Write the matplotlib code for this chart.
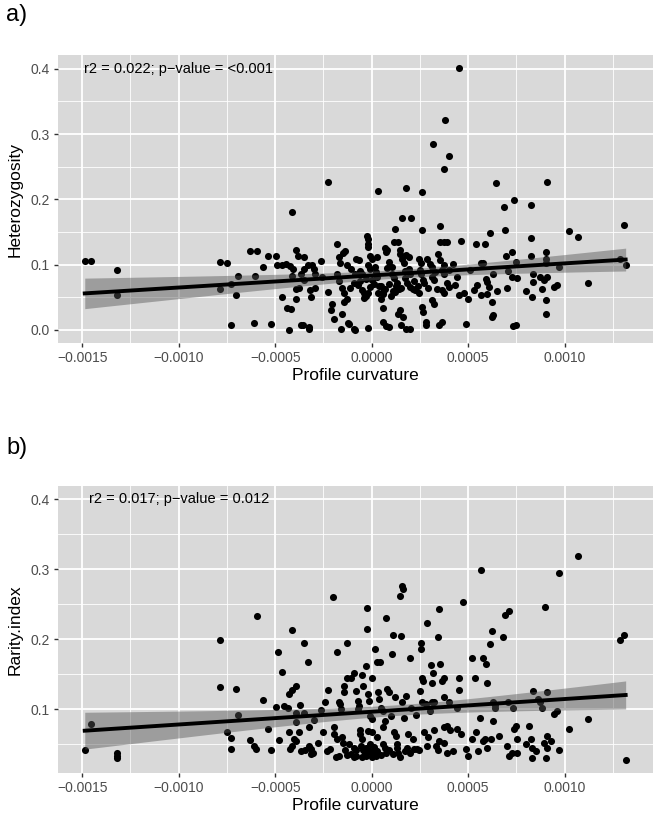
import matplotlib
matplotlib.use("Agg")
import matplotlib.pyplot as plt
import numpy as np

plt.rcParams["font.family"] = ["Liberation Sans", "DejaVu Sans"]

# profile curvature, in units of 1e-4
CURV_A = [
    -14.87, -14.54, -13.22, -13.22,
    -7.85, -7.52, -7.85, -7.30, -6.93, -7.02, -7.30,
    -6.32, -5.92, -5.61, -6.03, -5.37, -4.98,
    -4.89, -4.67, -4.45, -4.23, -4.08,
    -4.67, -4.39, -4.17, -4.12, -3.90, -3.84, -3.51,
    -4.12, -3.90, -3.77, -3.90, -3.64, -3.51, -3.51,
    -3.31, -3.07, -2.98, -3.20, -3.14,
    -3.55, -3.64, -3.25, -3.25, -4.28, -6.10, -5.20,
    -2.63, -2.92, -2.92, -2.59, -2.26, -2.04, -2.11, -1.97,
    -1.82, -1.71, -1.64, -1.49, -1.38, -1.82, -1.71,
    -1.54, -1.45, -1.27, -1.43, -1.54, -1.23, -1.16,
    -1.60, -0.94, -0.88, -2.24,
    -1.05, -0.88, -0.79, -0.66, -0.61, -0.72, -0.50, -0.39,
    -0.39, -0.18, -0.29, -0.26, -0.18, -0.18, -0.18,
    -0.07, 0.04, 0.15, 0.26, -0.07, 0.04, 0.26, 0.37, 0.31,
    -0.18, 0.31, 0.59, 0.48, 0.59, 0.61, 0.75,
    0.70, 0.81, 0.75, 0.92, 1.03, 1.03, 1.14, 1.25,
    0.92, 1.14, 1.36, 1.21, 1.47, 1.58, 1.47,
    1.58, 1.80, 2.06, 1.80, 1.93, 1.69, 1.93, 1.75, 1.84, 1.97,
    1.36, 1.47, 1.62, 1.54, 1.80, 1.97,
    2.13, 2.24, 2.46, 2.57, 2.57, 2.68,
    2.46, 2.63, 2.68, 2.79, 2.79,
    2.63, 2.63, 2.89, 3.00, 3.11, 3.22,
    3.11, 3.22, 3.16, 3.55, 3.55, 3.73,
    3.44, 3.55, 3.77, 3.66, 3.77, 3.88, 3.99, 3.66, 3.77,
    3.51, 3.66, 3.88, 3.82, 3.77, 3.99, 4.50,
    4.65, 4.43, 4.32, 4.54, 4.76, 4.87,
    5.09, 5.42, 5.48, 5.64, 5.64, 5.75, 5.86,
    5.96, 6.07, 6.12, 6.23, 6.29, 6.23, 6.29,
    6.45, 6.84, 6.89, 6.95, 7.06, 7.28, 7.28,
    7.39, 7.32, 7.50, 7.50, 7.54,
    8.27, 8.27, 8.27, 8.38, 8.38, 8.33,
    8.71, 8.93, 8.82, 9.04, 9.04, 9.04, 9.08,
    9.04, 9.04, 9.08, 9.47, 9.58, 9.69,
    10.20, 10.70, 11.23, 12.87, 13.09, 13.16,
    0.5, 0.7, 0.9, 1.1, 1.3, 1.5, 0.6, 1.0, 1.2, 1.4,
    -0.5, -0.3, -0.1, 0.1, 0.2, -0.6, -0.9, -1.1,
    2.2, 2.4, 2.7, 2.9, 3.1, 3.3, 3.4, 2.5, 2.0, 1.7, 0.8,
    -1.3, -0.2, 4.0, 4.2, 5.3, 5.9, 6.5,
    6.0, 7.0, 8.0, 5.0,
]
HETEROZYGOSITY = [
    0.106, 0.106, 0.092, 0.053,
    0.104, 0.102, 0.063, 0.071, 0.082, 0.053, 0.007,
    0.121, 0.121, 0.097, 0.082, 0.114, 0.114,
    0.099, 0.099, 0.101, 0.098, 0.093,
    0.051, 0.034, 0.032, 0.180, 0.123, 0.113, 0.111,
    0.082, 0.063, 0.064, 0.048, 0.086, 0.077, 0.093,
    0.099, 0.099, 0.093, 0.061, 0.050,
    0.007, 0.007, 0.004, 0.002, 0.000, 0.011, 0.009,
    0.105, 0.064, 0.085, 0.081, 0.058, 0.040, 0.030, 0.016,
    0.131, 0.112, 0.102, 0.118, 0.121, 0.086, 0.075,
    0.064, 0.056, 0.047, 0.043, 0.024, 0.011, 0.009,
    0.002, 0.002, 0.000, 0.226,
    0.094, 0.085, 0.109, 0.107, 0.075, 0.069, 0.061, 0.056,
    0.049, 0.056, 0.052, 0.144, 0.139, 0.131, 0.127,
    0.113, 0.109, 0.097, 0.111, 0.094, 0.076, 0.081, 0.067, 0.056,
    0.003, 0.213, 0.033, 0.047, 0.058, 0.012, 0.006,
    0.125, 0.123, 0.119, 0.104, 0.097, 0.086, 0.079, 0.067,
    0.005, 0.135, 0.134, 0.154, 0.117, 0.109, 0.122,
    0.172, 0.217, 0.172, 0.115, 0.112, 0.102, 0.094, 0.079, 0.072, 0.066,
    0.025, 0.030, 0.020, 0.007, 0.002, 0.001,
    0.063, 0.061, 0.109, 0.102, 0.086, 0.077,
    0.056, 0.035, 0.028, 0.012, 0.007,
    0.212, 0.153, 0.109, 0.101, 0.081, 0.076,
    0.046, 0.040, 0.285, 0.159, 0.134, 0.134,
    0.117, 0.107, 0.099, 0.092, 0.086, 0.072, 0.066, 0.061, 0.057,
    0.007, 0.012, 0.134, 0.321, 0.247, 0.267, 0.401,
    0.136, 0.081, 0.069, 0.053, 0.057, 0.009,
    0.092, 0.132, 0.069, 0.053, 0.102, 0.102, 0.132,
    0.074, 0.066, 0.148, 0.043, 0.023, 0.020, 0.086,
    0.225, 0.189, 0.153, 0.113, 0.091, 0.081, 0.119,
    0.199, 0.006, 0.007, 0.104, 0.080,
    0.192, 0.141, 0.114, 0.086, 0.074, 0.051,
    0.081, 0.077, 0.062, 0.119, 0.109, 0.102, 0.081,
    0.046, 0.025, 0.226, 0.066, 0.069, 0.097,
    0.151, 0.142, 0.072, 0.109, 0.161, 0.099,
    0.068, 0.062, 0.070, 0.060, 0.072, 0.064, 0.055, 0.052, 0.058, 0.063,
    0.085, 0.078, 0.066, 0.070, 0.089, 0.090, 0.072, 0.065,
    0.075, 0.068, 0.072, 0.064, 0.096, 0.088, 0.062, 0.092, 0.085, 0.090, 0.095,
    0.100, 0.100, 0.092, 0.101, 0.061, 0.078, 0.060,
    0.055, 0.065, 0.060, 0.048,
]

CURV_B = [
    -14.87, -14.54, -13.22, -13.22, -13.22,
    -7.85, -7.85, -7.52, -7.30, -7.30, -7.02, -6.93,
    -6.32, -6.10, -5.98, -5.92, -5.61, -5.37, -5.20,
    -4.98, -4.85, -4.67, -4.78, -4.56, -4.34, -4.28,
    -4.12, -4.28, -4.12, -3.90,
    -4.23, -4.12, -4.01, -3.90, -3.90, -3.79, -3.90,
    -3.73, -3.51, -3.51, -3.68, -3.46, -3.29,
    -3.25, -3.25, -3.14, -3.03, -3.14, -2.76,
    -2.65, -2.41, -2.26, -2.15, -2.00,
    -1.93, -1.93, -1.82, -1.86, -1.71, -1.82,
    -1.71, -1.64, -1.60, -1.54, -1.49, -1.45, -1.45,
    -1.38, -1.27, -1.27, -1.05, -0.94,
    -1.16, -1.05, -0.94, -0.94, -0.83, -0.83, -0.83,
    -0.72, -0.66, -0.72, -0.61, -0.50, -0.57, -0.44, -0.50,
    -0.50, -0.44, -0.35, -0.29,
    -0.22, -0.22, -0.29,
    -0.18, -0.13, -0.07, 0.00, -0.18, 0.04, -0.07,
    0.04, 0.15, 0.00, 0.04, 0.15, 0.22,
    0.26, 0.44, 0.31, 0.37, 0.48, 0.59,
    0.59, 0.70, 0.70, 0.75, 0.75, 0.92, 0.81,
    1.03, 1.10, 1.14, 1.25, 1.32, 1.36, 1.47,
    1.54, 1.58, 1.62, 1.47, 1.58, 1.69, 1.80, 1.84,
    1.97, 2.06, 2.13, 2.19, 2.35, 2.46,
    2.57, 2.57, 2.63, 2.68, 2.50, 2.63, 2.79,
    2.72, 2.89, 2.89, 3.07, 3.16, 3.11, 3.22,
    3.11, 3.22, 3.33, 3.44, 3.44, 3.51, 3.55,
    3.66, 3.77, 3.73, 3.77, 3.88, 3.73, 3.88,
    3.99, 4.06, 4.43, 4.54, 4.54, 4.43, 4.61,
    4.71, 4.87, 4.98, 5.20, 5.20, 5.35, 5.42, 5.59,
    5.64, 5.75, 5.75, 5.86, 5.92, 5.96, 6.14, 6.18,
    6.23, 6.29, 6.29, 6.40, 6.40, 6.80, 6.89, 7.11,
    7.06, 7.13, 7.28, 7.32, 7.39, 7.50, 7.54, 7.54,
    8.16, 8.27, 8.33, 8.33, 8.38, 8.60, 8.71, 8.82,
    8.93, 8.99, 9.08, 9.08, 9.08, 9.04,
    9.43, 9.58, 9.69, 9.69, 10.20, 10.70, 11.23,
    12.87, 13.09, 13.16,
    -0.3, -0.1, 0.1, 0.3, 0.5, 0.9, 1.1, 1.3, 1.7, 2.0,
    -1.3, -2.3, -0.6, 0.3, 1.0, 1.9, 2.3, 3.0, 3.5, 4.2,
    -3.0, -2.5, 0.6, 1.2, 2.9,
    5.5, 6.0, 7.0, 8.0, 8.5, 9.3, 6.6,
]
RARITY = [
    0.042, 0.079, 0.037, 0.033, 0.030,
    0.198, 0.131, 0.067, 0.059, 0.043, 0.129, 0.092,
    0.056, 0.048, 0.043, 0.233, 0.113, 0.071, 0.041,
    0.103, 0.182, 0.153, 0.056, 0.105, 0.102, 0.067,
    0.213, 0.121, 0.128, 0.133,
    0.043, 0.048, 0.057, 0.095, 0.081, 0.067, 0.055,
    0.106, 0.194, 0.094, 0.040, 0.041, 0.167,
    0.074, 0.048, 0.043, 0.038, 0.036, 0.052,
    0.099, 0.110, 0.128, 0.043, 0.260,
    0.074, 0.064, 0.057, 0.031, 0.033, 0.181,
    0.110, 0.107, 0.100, 0.060, 0.052, 0.133, 0.124,
    0.041, 0.195, 0.144, 0.144, 0.151,
    0.050, 0.036, 0.031, 0.045, 0.041, 0.033, 0.126,
    0.112, 0.105, 0.100, 0.064, 0.057, 0.048, 0.041, 0.031,
    0.148, 0.133, 0.038, 0.033,
    0.245, 0.214, 0.162,
    0.121, 0.112, 0.090, 0.086, 0.069, 0.067, 0.050,
    0.144, 0.186, 0.036, 0.031, 0.041, 0.033,
    0.167, 0.167, 0.124, 0.114, 0.102, 0.098,
    0.074, 0.083, 0.045, 0.038, 0.230, 0.124, 0.129,
    0.178, 0.206, 0.067, 0.062, 0.050, 0.038, 0.031,
    0.205, 0.276, 0.272, 0.261, 0.110, 0.088, 0.119, 0.045,
    0.173, 0.102, 0.057, 0.043, 0.043, 0.041,
    0.195, 0.186, 0.144, 0.140, 0.126, 0.110, 0.107,
    0.067, 0.048, 0.223, 0.163, 0.151, 0.110, 0.110,
    0.138, 0.070, 0.048, 0.041, 0.203, 0.243, 0.165,
    0.140, 0.144, 0.117, 0.052, 0.038, 0.074, 0.076,
    0.110, 0.070, 0.101, 0.144, 0.127, 0.072, 0.064,
    0.253, 0.043, 0.033, 0.173, 0.058, 0.144, 0.067, 0.088,
    0.299, 0.173, 0.055, 0.057, 0.164, 0.138, 0.193, 0.057,
    0.212, 0.083, 0.110, 0.106, 0.102, 0.203, 0.235, 0.240,
    0.110, 0.033, 0.038, 0.102, 0.072, 0.076, 0.057, 0.038,
    0.076, 0.058, 0.045, 0.030, 0.126, 0.114, 0.110, 0.102,
    0.052, 0.246, 0.125, 0.062, 0.045, 0.030,
    0.093, 0.098, 0.041, 0.295, 0.072, 0.318, 0.086,
    0.198, 0.206, 0.027,
    0.045, 0.040, 0.046, 0.040, 0.035, 0.042, 0.036, 0.044, 0.040, 0.038,
    0.035, 0.040, 0.070, 0.060, 0.090, 0.065, 0.092, 0.098, 0.055, 0.040,
    0.085, 0.068, 0.050, 0.118, 0.060,
    0.040, 0.045, 0.048, 0.050, 0.040, 0.055, 0.062,
]

PANELS = [
    ("a)", "Heterozygosity", CURV_A, HETEROZYGOSITY, "r2 = 0.022; p\u2212value = <0.001"),
    ("b)", "Rarity.index", CURV_B, RARITY, "r2 = 0.017; p\u2212value = 0.012"),
]
X_TICKS = [-0.0015, -0.0010, -0.0005, 0.0, 0.0005, 0.0010]
Y_TICKS = [0.0, 0.1, 0.2, 0.3, 0.4]
NOTE_X, NOTE_Y = -0.001, 0.4


def lm_band(x, y, grid):
    # straight-line fit with a 95% band for the mean, like geom_smooth(method="lm")
    n = len(x)
    slope, icpt = np.polyfit(x, y, 1)
    resid = y - (slope * x + icpt)
    s = np.sqrt(np.sum(resid ** 2) / (n - 2))
    xm = x.mean()
    se = s * np.sqrt(1.0 / n + (grid - xm) ** 2 / np.sum((x - xm) ** 2))
    fit = slope * grid + icpt
    return fit, fit - 1.97 * se, fit + 1.97 * se


def expand(lo, hi):
    r = hi - lo
    return lo - 0.05 * r, hi + 0.05 * r


fig = plt.figure(figsize=(6.64, 8.25), dpi=100)
axes_rects = [[0.0869, 0.5842, 0.8961, 0.3491], [0.0869, 0.0627, 0.8961, 0.3482]]
tag_y = [1 - 15 / 825, 1 - 448 / 825]

for (tag, ylabel, xs, ys, note), rect, ty in zip(PANELS, axes_rects, tag_y):
    x = np.array(xs) * 1e-4
    y = np.array(ys)
    ax = fig.add_axes(rect)
    ax.set_facecolor("#D9D9D9")
    for sp in ax.spines.values():
        sp.set_visible(False)

    ax.set_xticks(X_TICKS)
    ax.set_xticklabels([f"{t:.4f}".replace("-", "\u2212") for t in X_TICKS])
    ax.set_xticks(np.arange(-0.00175, 0.0015, 0.0005), minor=True)
    ax.set_yticks(Y_TICKS)
    ax.set_yticklabels([f"{t:.1f}" for t in Y_TICKS])
    ax.set_yticks(np.arange(0.05, 0.4, 0.1), minor=True)
    ax.set_ylim(*expand(min(y.min(), NOTE_Y), max(y.max(), NOTE_Y)))
    ax.set_xlim(*expand(x.min(), x.max()))

    ax.grid(which="major", color="white", linewidth=1.3)
    ax.grid(which="minor", color="white", linewidth=0.6)
    ax.set_axisbelow(True)
    ax.tick_params(which="major", length=3, width=1.0, color="#333333",
                   labelsize=10, labelcolor="#4D4D4D", pad=2.5)
    ax.tick_params(which="minor", length=0)

    ax.scatter(x, y, s=26, color="black", linewidths=0, zorder=3)

    grid = np.linspace(x.min(), x.max(), 100)
    fit, lo, hi = lm_band(x, y, grid)
    ax.fill_between(grid, lo, hi, color="#555555", alpha=0.45, linewidth=0, zorder=4)
    ax.plot(grid, fit, color="black", linewidth=2.8, zorder=5)

    ax.text(NOTE_X, NOTE_Y, note, ha="center", va="center", fontsize=10.5, color="black")

    ax.set_xlabel("Profile curvature", fontsize=12.5)
    ax.set_ylabel(ylabel, fontsize=12.5)
    ax.xaxis.set_label_coords(0.5, -0.113)
    ax.xaxis.label.set_verticalalignment("center")
    ax.yaxis.set_label_coords(-0.071, 0.5)
    ax.yaxis.label.set_verticalalignment("center")

    fig.text(6 / 664, ty, tag, fontsize=17, ha="left", va="center")

fig.savefig("out.png", dpi=100)
